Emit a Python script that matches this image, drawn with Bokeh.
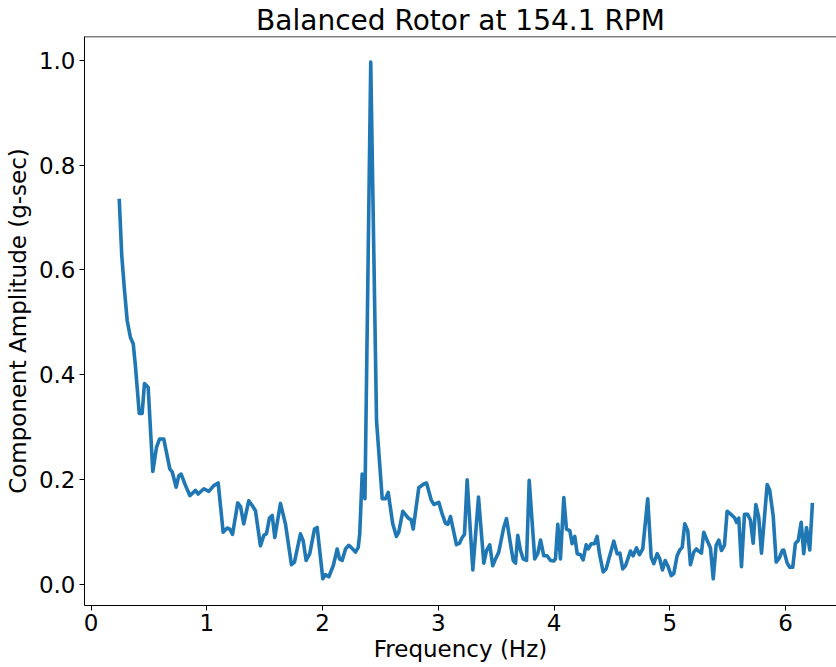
from bokeh.plotting import figure
from bokeh.models import Range1d, FixedTicker, Span, PrintfTickFormatter
from bokeh.embed import file_html
from bokeh.resources import INLINE

# Values (frequency in Hz, amplitude in g-sec)
freq = [0.243, 0.265, 0.289, 0.312, 0.340, 0.364, 0.384, 0.416, 0.441, 0.461,
        0.493, 0.533, 0.565, 0.591, 0.628, 0.680, 0.701, 0.735, 0.758, 0.778,
        0.816, 0.853, 0.902, 0.925, 0.974, 1.017, 1.060, 1.098, 1.141, 1.176,
        1.198, 1.222, 1.267, 1.291, 1.319, 1.362, 1.392, 1.420, 1.463, 1.492,
        1.515, 1.541, 1.565, 1.587, 1.636, 1.679, 1.731, 1.757, 1.809, 1.832,
        1.858, 1.889, 1.930, 1.953, 2.002, 2.025, 2.054, 2.092, 2.126, 2.146,
        2.169, 2.198, 2.226, 2.247, 2.284, 2.308, 2.321, 2.342, 2.366, 2.416,
        2.466, 2.515, 2.543, 2.567, 2.606, 2.638, 2.658, 2.693, 2.722, 2.745,
        2.765, 2.783, 2.831, 2.874, 2.898, 2.938, 2.961, 3.004, 3.033, 3.062,
        3.082, 3.105, 3.157, 3.183, 3.206, 3.226, 3.249, 3.298, 3.347, 3.393,
        3.416, 3.444, 3.470, 3.494, 3.522, 3.565, 3.589, 3.623, 3.647, 3.667,
        3.686, 3.710, 3.733, 3.762, 3.785, 3.833, 3.859, 3.883, 3.911, 3.940,
        3.969, 3.997, 4.012, 4.032, 4.055, 4.084, 4.107, 4.136, 4.156, 4.179,
        4.200, 4.228, 4.251, 4.277, 4.295, 4.321, 4.349, 4.372, 4.392, 4.424,
        4.450, 4.473, 4.516, 4.545, 4.568, 4.593, 4.617, 4.660, 4.683, 4.712,
        4.738, 4.766, 4.809, 4.839, 4.861, 4.891, 4.913, 4.936, 4.960, 4.982,
        5.012, 5.034, 5.063, 5.086, 5.107, 5.129, 5.155, 5.178, 5.207, 5.230,
        5.250, 5.273, 5.293, 5.323, 5.351, 5.375, 5.400, 5.423, 5.446, 5.472,
        5.495, 5.524, 5.561, 5.576, 5.596, 5.619, 5.645, 5.673, 5.697, 5.720,
        5.743, 5.768, 5.792, 5.841, 5.863, 5.893, 5.919, 5.947, 5.971, 5.984,
        6.014, 6.036, 6.062, 6.085, 6.109, 6.135, 6.157, 6.181, 6.209, 6.232]

amp = [0.736, 0.627, 0.560, 0.503, 0.471, 0.459, 0.414, 0.326, 0.326, 0.383,
       0.376, 0.215, 0.261, 0.277, 0.277, 0.220, 0.214, 0.185, 0.207, 0.210,
       0.188, 0.169, 0.179, 0.172, 0.182, 0.177, 0.188, 0.193, 0.099, 0.107,
       0.105, 0.095, 0.155, 0.148, 0.115, 0.159, 0.150, 0.140, 0.073, 0.093,
       0.096, 0.126, 0.131, 0.089, 0.154, 0.115, 0.037, 0.042, 0.096, 0.083,
       0.045, 0.058, 0.105, 0.108, 0.010, 0.018, 0.014, 0.035, 0.067, 0.048,
       0.045, 0.067, 0.074, 0.070, 0.061, 0.070, 0.096, 0.210, 0.163, 0.997,
       0.312, 0.163, 0.163, 0.175, 0.115, 0.091, 0.099, 0.139, 0.131, 0.125,
       0.123, 0.105, 0.184, 0.191, 0.193, 0.161, 0.152, 0.156, 0.134, 0.116,
       0.114, 0.129, 0.075, 0.078, 0.089, 0.095, 0.199, 0.027, 0.166, 0.040,
       0.064, 0.075, 0.035, 0.048, 0.061, 0.108, 0.125, 0.077, 0.045, 0.040,
       0.093, 0.064, 0.048, 0.045, 0.198, 0.048, 0.058, 0.084, 0.054, 0.054,
       0.045, 0.044, 0.048, 0.114, 0.048, 0.165, 0.105, 0.102, 0.077, 0.091,
       0.058, 0.056, 0.046, 0.075, 0.067, 0.077, 0.077, 0.091, 0.058, 0.023,
       0.029, 0.048, 0.082, 0.058, 0.059, 0.029, 0.035, 0.063, 0.054, 0.069,
       0.056, 0.067, 0.163, 0.051, 0.039, 0.058, 0.048, 0.027, 0.045, 0.035,
       0.016, 0.020, 0.054, 0.065, 0.070, 0.115, 0.102, 0.037, 0.061, 0.067,
       0.063, 0.059, 0.099, 0.083, 0.069, 0.010, 0.074, 0.084, 0.064, 0.074,
       0.139, 0.134, 0.126, 0.118, 0.126, 0.033, 0.133, 0.133, 0.122, 0.078,
       0.152, 0.128, 0.059, 0.190, 0.179, 0.130, 0.042, 0.050, 0.064, 0.065,
       0.040, 0.032, 0.032, 0.078, 0.083, 0.118, 0.058, 0.108, 0.065, 0.155]

x_ticks = [0, 1, 2, 3, 4, 5, 6]
y_ticks = [0.0, 0.2, 0.4, 0.6, 0.8, 1.0]
title_text = "Balanced Rotor at 154.1 RPM"
x_label = "Frequency (Hz)"
y_label = "Component Amplitude (g-sec)"

FONT = "DejaVu Sans"
X_START, X_END = -0.057, 6.44
Y_START, Y_END = -0.041, 1.046

p = figure(width=836, height=667, output_backend="svg", toolbar_location=None,
           x_range=Range1d(X_START, X_END), y_range=Range1d(Y_START, Y_END),
           min_border_left=84, min_border_right=0, min_border_top=36,
           min_border_bottom=62, title=title_text)

p.title.text_font = FONT
p.title.text_font_size = "28px"
p.title.text_font_style = "normal"
p.title.align = "center"
p.title.standoff = 0
p.title.text_color = "black"

p.line(freq, amp, line_width=3.6, color="#1f77b4", line_join="round")

p.outline_line_color = None
p.xgrid.visible = False
p.ygrid.visible = False
p.background_fill_color = "white"
p.border_fill_color = "white"

top_spine = Span(location=Y_END, dimension="width", line_color="black", line_width=1.5)
p.add_layout(top_spine)

p.xaxis.ticker = FixedTicker(ticks=x_ticks)
p.yaxis.ticker = FixedTicker(ticks=y_ticks)
p.yaxis.formatter = PrintfTickFormatter(format="%.1f")
p.xaxis.axis_label = x_label
p.yaxis.axis_label = y_label

for ax in (p.xaxis[0], p.yaxis[0]):
    ax.axis_line_color = "black"
    ax.axis_line_width = 1
    ax.major_tick_line_color = "black"
    ax.major_tick_in = 0
    ax.major_tick_out = 5
    ax.minor_tick_line_color = None
    ax.major_label_text_font = FONT
    ax.major_label_text_font_size = "23px"
    ax.major_label_text_color = "black"
    ax.axis_label_text_font = FONT
    ax.axis_label_text_font_size = "23px"
    ax.axis_label_text_font_style = "normal"
    ax.axis_label_text_color = "black"

p.xaxis.major_label_standoff = 3
p.xaxis.axis_label_standoff = 2
p.yaxis.major_label_standoff = 4
p.yaxis.axis_label_standoff = 5

open("out.html", "w").write(file_html(p, INLINE))
